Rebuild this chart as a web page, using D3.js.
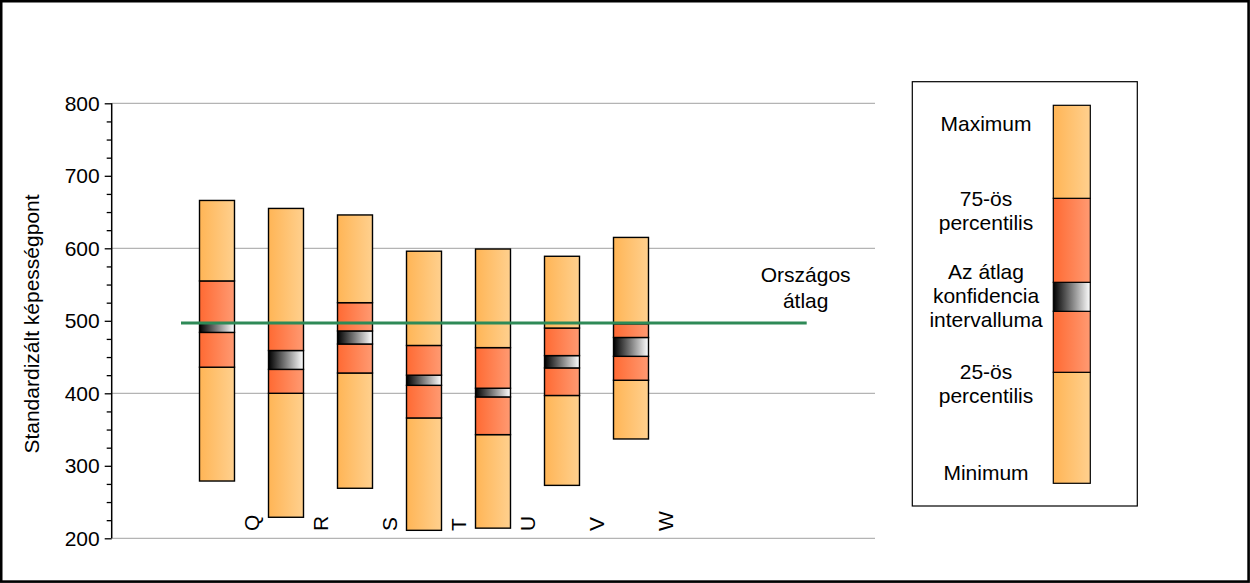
<!DOCTYPE html>
<html>
<head>
<meta charset="utf-8">
<script src="https://cdn.jsdelivr.net/npm/d3@7"></script>
<style>
  html, body { margin: 0; padding: 0; background: #fff; }
  svg { display: block; font-family: "Liberation Sans", Arial, sans-serif; }
</style>
</head>
<body>
<svg id="chart" width="1250" height="583"></svg>
<script>
// ---- data ----
const categories = ["Q", "R", "S", "T", "U", "V", "W"];
const minimum   = [279, 229, 269, 211, 214, 273, 337];
const p25       = [436, 400, 428, 366, 343, 397, 418];
const ciLow     = [484, 433, 468, 411, 395, 435, 451];
const ciHigh    = [497, 459, 486, 425, 407, 452, 477];
const p75       = [555, 497, 525, 466, 463, 490, 496];
const maximum   = [666, 655, 646, 596, 599, 589, 615];
const nationalAverage = 497;
const yTicks = [200, 300, 400, 500, 600, 700, 800];
const gridTicks = [200, 400, 600, 800];
const yTitle = "Standardizált képességpont";
const avgLabel = ["Országos", "átlag"];
const legendLabels = [
  ["Maximum"],
  ["75-ös", "percentilis"],
  ["Az átlag", "konfidencia", "intervalluma"],
  ["25-ös", "percentilis"],
  ["Minimum"]
];

// ---- setup ----
const svg = d3.select("#chart");
const W = 1250, H = 583;
const fs = 21;

const defs = svg.append("defs");
function grad(id, c0, c1) {
  const g = defs.append("linearGradient").attr("id", id)
    .attr("x1", "0%").attr("x2", "100%").attr("y1", "0%").attr("y2", "0%");
  g.append("stop").attr("offset", "0%").attr("stop-color", c0);
  g.append("stop").attr("offset", "100%").attr("stop-color", c1);
}
grad("gOrange", "#ffb556", "#ffd08e");
grad("gRed", "#ff6a33", "#ff9a72");
grad("gCI", "#000000", "#ffffff");

svg.append("rect").attr("width", W).attr("height", H).attr("fill", "#fff");

const y = d3.scaleLinear().domain([200, 800]).range([538.3, 103.3]);
const x = d3.scaleBand().domain(categories).range([182.5, 665.5])
  .paddingInner(0.493).paddingOuter(0.2465);
const axisX = 111.7;
const plotRight = 875;

// gridlines
svg.append("g").selectAll("line").data(gridTicks).join("line")
  .attr("x1", axisX).attr("x2", plotRight)
  .attr("y1", d => y(d)).attr("y2", d => y(d))
  .attr("stroke", "#b4b4b4").attr("stroke-width", 1.3);

// y axis with minor ticks
const minorTicks = d3.range(200, 801, 25).filter(v => v % 100 !== 0);
const gAxis = svg.append("g").attr("transform", `translate(${axisX},0)`);
gAxis.call(d3.axisLeft(y).tickValues(minorTicks).tickSize(5).tickFormat(""))
  .call(g => g.select(".domain").remove());
gAxis.append("g").call(d3.axisLeft(y).tickValues(yTicks).tickSize(7).tickPadding(5)
  .tickFormat(d3.format("d")))
  .call(g => g.select(".domain").remove());
gAxis.selectAll("line").attr("stroke", "#000").attr("stroke-width", 1.3);
gAxis.selectAll("text").attr("font-size", fs).attr("fill", "#000")
  .attr("font-family", "Liberation Sans, Arial, sans-serif");
gAxis.append("line").attr("x1", 0).attr("x2", 0).attr("y1", y(800)).attr("y2", y(200))
  .attr("stroke", "#000").attr("stroke-width", 1.5);

// y title
svg.append("text").attr("transform", `translate(${39},${324}) rotate(-90)`)
  .attr("text-anchor", "middle").attr("font-size", fs).attr("fill", "#000")
  .text(yTitle);

// bars
const rows = categories.map((c, i) => ({
  c, min: minimum[i], q1: p25[i], lo: ciLow[i], hi: ciHigh[i], q3: p75[i], max: maximum[i]
}));
const segs = [];
rows.forEach(r => {
  segs.push({c: r.c, a: r.min, b: r.q1, f: "url(#gOrange)"});
  segs.push({c: r.c, a: r.q1, b: r.lo, f: "url(#gRed)"});
  segs.push({c: r.c, a: r.lo, b: r.hi, f: "url(#gCI)"});
  segs.push({c: r.c, a: r.hi, b: r.q3, f: "url(#gRed)"});
  segs.push({c: r.c, a: r.q3, b: r.max, f: "url(#gOrange)"});
});
svg.append("g").selectAll("rect").data(segs.filter(s => s.b > s.a)).join("rect")
  .attr("x", d => x(d.c)).attr("width", x.bandwidth())
  .attr("y", d => y(d.b)).attr("height", d => y(d.a) - y(d.b))
  .attr("fill", d => d.f).attr("stroke", "#000").attr("stroke-width", 1.4);

// category labels (offset half a step to the right, rotated)
svg.append("g").selectAll("text").data(categories).join("text")
  .attr("transform", d => `translate(${x(d) + x.bandwidth() / 2 + x.step() / 2 - 0.5},${531}) rotate(-90)`)
  .attr("dy", "0.36em").attr("text-anchor", "start")
  .attr("font-size", fs).attr("fill", "#000").text(d => d);

// national average line
svg.append("line")
  .attr("x1", x.range()[0] - 1.5).attr("x2", 806.7)
  .attr("y1", y(nationalAverage)).attr("y2", y(nationalAverage))
  .attr("stroke", "#2e8a57").attr("stroke-width", 3);
svg.append("text").attr("text-anchor", "middle").attr("font-size", fs).attr("fill", "#000")
  .selectAll("tspan").data(avgLabel).join("tspan")
  .attr("x", 805.7).attr("y", (d, i) => 282.3 + i * 26).text(d => d);

// legend
svg.append("rect").attr("x", 912.3).attr("y", 81.7).attr("width", 225).attr("height", 424.3)
  .attr("fill", "none").attr("stroke", "#000").attr("stroke-width", 1.2);
const legY = [483.3, 372.3, 311.3, 282.3, 198.3, 105.3];
const legFills = ["url(#gOrange)", "url(#gRed)", "url(#gCI)", "url(#gRed)", "url(#gOrange)"];
svg.append("g").selectAll("rect").data(legFills).join("rect")
  .attr("x", 1053.3).attr("width", 37)
  .attr("y", (d, i) => legY[i + 1]).attr("height", (d, i) => legY[i] - legY[i + 1])
  .attr("fill", d => d).attr("stroke", "#000").attr("stroke-width", 1.2);
const legBaselines = [130.7, 206, 279.3, 379.3, 480];
const lg = svg.append("g").attr("font-size", fs).attr("fill", "#000").attr("text-anchor", "middle");
legendLabels.forEach((lines, k) => {
  lg.append("text").selectAll("tspan").data(lines).join("tspan")
    .attr("x", 986).attr("y", (d, i) => legBaselines[k] + i * 24).text(d => d);
});

// outer frame
svg.append("rect").attr("x", 1.2).attr("y", 1.2).attr("width", W - 2.6).attr("height", H - 2.6)
  .attr("fill", "none").attr("stroke", "#000").attr("stroke-width", 2.6);
</script>
</body>
</html>
